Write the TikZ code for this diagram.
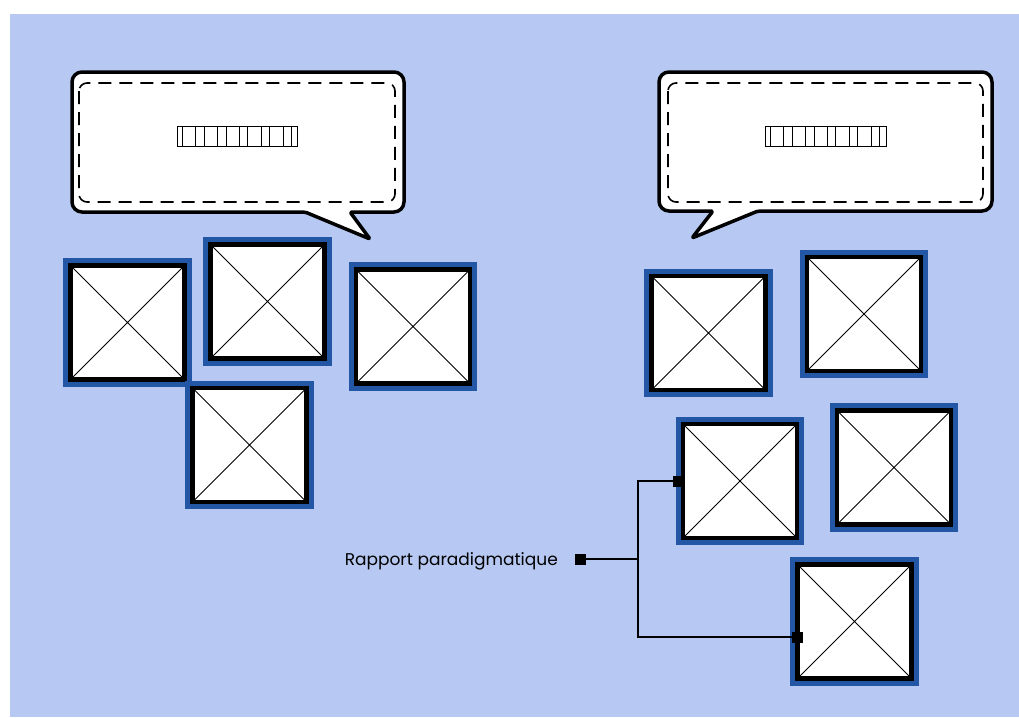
\documentclass[tikz,border=0pt]{standalone}
\usepackage{fontspec}
\setmainfont{Poppins}
\usetikzlibrary{calc}
\definecolor{bgblue}{HTML}{B7C9F2}
\definecolor{boxblue}{HTML}{2456A6}
\begin{document}
\begin{tikzpicture}[x=1pt,y=-1pt,
  imgbox/.style={draw=black, line width=4.5pt, fill=white, minimum size=114pt,
    inner sep=0pt, outer sep=0pt,
    preaction={draw=boxblue, line width=14.5pt},
    path picture={\draw[line width=0.9pt,black]
      (path picture bounding box.north west) -- (path picture bounding box.south east)
      (path picture bounding box.south west) -- (path picture bounding box.north east);}},
  bubble/.style={draw=black, line width=3.5pt, fill=white, line join=round},
  innerdash/.style={draw=black, line width=1.6pt, dash pattern=on 13pt off 8pt, rounded corners=8pt},
  marker/.style={fill=black, minimum size=11pt, inner sep=0pt, outer sep=0pt},
  conn/.style={draw=black, line width=1.4pt},
  ruler/.style={draw=black, line width=1pt}
]
\useasboundingbox (0,0) rectangle (1019,717);
\fill[bgblue] (10,14) rectangle (1019,717);

% left speech bubble
\draw[bubble, rounded corners=10pt] (238,72) -- (404,72) -- (404,212) [rounded corners=2pt] -- (350,212) -- (370,239) -- (305,212) [rounded corners=10pt] -- (72,212) -- (72,72) -- cycle;
\draw[innerdash] (79,83) rectangle (395,202);
\draw[ruler] (177,126) rectangle (297.5,146);
\foreach \d in {5.5,18,27,40.5,49,62,70.5,84,92.5,106,114}
  \draw[line width=0.8pt] (177+\d,126) -- (177+\d,146);

% right speech bubble
\draw[bubble, rounded corners=10pt] (825,72) -- (992,72) -- (992,211) [rounded corners=2pt] -- (758,211) -- (692,238) -- (713,211) [rounded corners=10pt] -- (659,211) -- (659,72) -- cycle;
\draw[innerdash] (668,83) rectangle (983,202);
\draw[ruler] (765,126) rectangle (886,146);
\foreach \d in {5.5,18,27,40.5,49,62,70.5,84,92.5,106,114}
  \draw[line width=0.8pt] (765+\d,126) -- (765+\d,146);

% left group of images
\node[imgbox] (L1) at (127.5,322.5) {};
\node[imgbox] (L2) at (267.5,301.5) {};
\node[imgbox] (L3) at (413,326.5) {};
\node[imgbox] (L4) at (249.5,445) {};

% right group of images
\node[imgbox] (R1) at (708.5,333) {};
\node[imgbox] (R2) at (864,314) {};
\node[imgbox] (R3) at (740,481) {};
\node[imgbox] (R4) at (894,467.5) {};
\node[imgbox] (R5) at (854.5,621.5) {};

% label and connectors
\node[anchor=base east, font=\fontsize{17}{20}\selectfont, inner sep=0pt] (lbl) at (558,565) {Rapport paradigmatique};
\node[marker] (m0) at (580.5,559) {};
\node[marker] (m1) at ($(R3.west)+(-5,0)$) {};
\node[marker] (m2) at ($(R5.west)+(0,15.5)$) {};
\coordinate (j) at (638,559);
\draw[conn] (m0) -- (j);
\draw[conn] (m1) -| (j) |- (m2);
\end{tikzpicture}
\end{document}
